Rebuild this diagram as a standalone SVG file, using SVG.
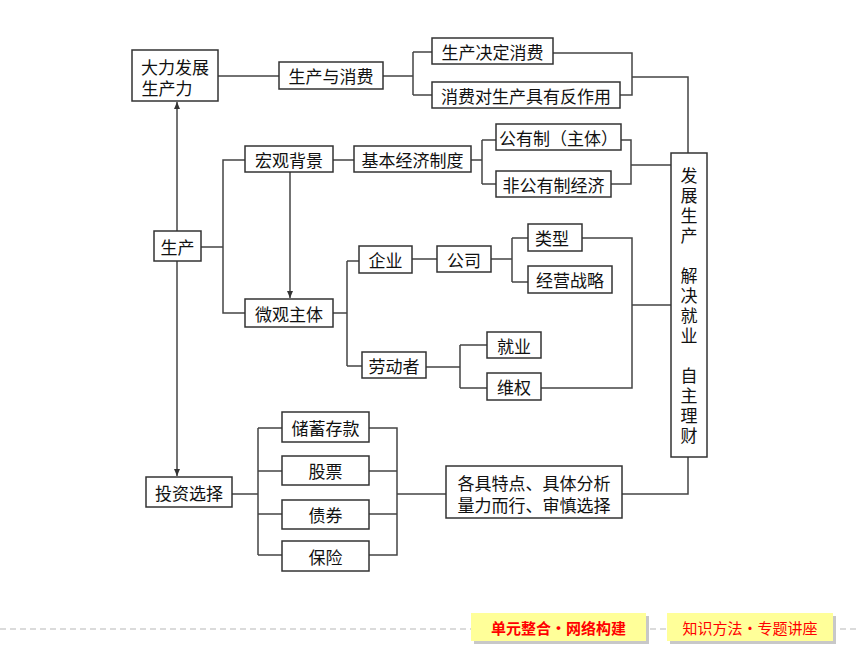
<svg xmlns="http://www.w3.org/2000/svg" width="860" height="645" viewBox="0 0 860 645">
<style>
.b{fill:#fff;stroke:#333;stroke-width:1.5}
.t{font-family:"Noto Sans CJK SC",sans-serif;font-size:17px;fill:#111;text-anchor:middle;dominant-baseline:central}
.v{font-family:"Noto Sans CJK SC",sans-serif;font-size:17px;fill:#111;text-anchor:middle;writing-mode:vertical-rl;letter-spacing:3px}
.c{fill:none;stroke:#444;stroke-width:1.5}
.btn{fill:#ffff99}
.sh{fill:#c8c8c8}
.bt{font-family:"Noto Sans CJK SC",sans-serif;font-size:15px;fill:#f00;text-anchor:middle;dominant-baseline:central}
</style>
<defs>
<marker id="ar" markerWidth="8" markerHeight="8" refX="7" refY="4" orient="auto" markerUnits="userSpaceOnUse">
<path d="M0,1 L7,4 L0,7 Z" fill="#333"/>
</marker>
</defs>
<rect width="860" height="645" fill="#fff"/>
<g id="connectors">
<path class="c" d="M218,76 H279 M383,76 H413 M413,52 V95 M413,52 H432 M413,95 H432"/>
<path class="c" d="M553,53 H632 V95 H620 M632,77 H688 V153"/>
<path class="c" d="M333,160 H354 M471,160 H482 M482,140 V184 M482,140 H496 M482,184 H496"/>
<path class="c" d="M621,140 H631 V184 H611 M631,165 H671"/>
<path class="c" d="M245,160 H223 V313 H245 M201,247 H223"/>
<path class="c" d="M290,172 V298" marker-end="url(#ar)"/>
<path class="c" d="M177,231 V102" marker-end="url(#ar)"/>
<path class="c" d="M177,261 V476" marker-end="url(#ar)"/>
<path class="c" d="M333,313 H347 M347,261 V366 M347,261 H359 M347,366 H362"/>
<path class="c" d="M412,259 H437 M491,259 H512 M512,238 V282 M512,238 H528 M512,282 H528"/>
<path class="c" d="M582,238 H632 V388 H541 M632,305 H671"/>
<path class="c" d="M426,367 H460 M460,345 V388 M460,345 H487 M460,388 H487"/>
<path class="c" d="M232,494 H258 M258,428 V555 M258,428 H282 M258,471 H282 M258,514 H282 M258,555 H282"/>
<path class="c" d="M369,428 H397 V555 H369 M369,471 H397 M369,514 H397 M397,494 H446"/>
<path class="c" d="M622,494 H688 V457"/>
</g>
<g id="n1"><rect class="b" x="132" y="50" width="86" height="51"/><text class="t"><tspan x="175" y="66">大力发展</tspan><tspan x="167" y="87">生产力</tspan></text></g>
<g id="n2"><rect class="b" x="279" y="62" width="104" height="27"/><text class="t" x="331" y="75.5">生产与消费</text></g>
<g id="n3"><rect class="b" x="432" y="38" width="121" height="26"/><text class="t" x="492.5" y="51">生产决定消费</text></g>
<g id="n4"><rect class="b" x="432" y="82" width="188" height="26"/><text class="t" x="526" y="95">消费对生产具有反作用</text></g>
<g id="n5"><rect class="b" x="245" y="146" width="88" height="26"/><text class="t" x="289" y="159">宏观背景</text></g>
<g id="n6"><rect class="b" x="354" y="146" width="117" height="26"/><text class="t" x="412.5" y="159">基本经济制度</text></g>
<g id="n7"><rect class="b" x="496" y="124" width="125" height="26"/><text class="t" x="558.5" y="137">公有制（主体）</text></g>
<g id="n8"><rect class="b" x="496" y="171" width="115" height="26"/><text class="t" x="553.5" y="184">非公有制经济</text></g>
<g id="n9"><rect class="b" x="154" y="231" width="47" height="30"/><text class="t" x="177.5" y="246">生产</text></g>
<g id="n10"><rect class="b" x="245" y="299" width="88" height="28"/><text class="t" x="289" y="313">微观主体</text></g>
<g id="n11"><rect class="b" x="359" y="246" width="53" height="27"/><text class="t" x="385.5" y="259.5">企业</text></g>
<g id="n12"><rect class="b" x="437" y="246" width="54" height="26"/><text class="t" x="464" y="259">公司</text></g>
<g id="n13"><rect class="b" x="528" y="224" width="54" height="27"/><text class="t" x="552" y="237.5">类型</text></g>
<g id="n14"><rect class="b" x="528" y="266" width="84" height="27"/><text class="t" x="570" y="279.5">经营战略</text></g>
<g id="n15"><rect class="b" x="362" y="352" width="64" height="26"/><text class="t" x="394" y="365">劳动者</text></g>
<g id="n16"><rect class="b" x="487" y="332" width="54" height="26"/><text class="t" x="514" y="345">就业</text></g>
<g id="n17"><rect class="b" x="487" y="373" width="54" height="27"/><text class="t" x="514" y="386.5">维权</text></g>
<g id="n18"><rect class="b" x="671" y="153" width="36" height="304"/><text class="v" x="689" y="307">发展生产　解决就业　自主理财</text></g>
<g id="n19"><rect class="b" x="146" y="477" width="86" height="30"/><text class="t" x="189" y="492">投资选择</text></g>
<g id="n20"><rect class="b" x="282" y="412" width="87" height="30"/><text class="t" x="325.5" y="427">储蓄存款</text></g>
<g id="n21"><rect class="b" x="282" y="456" width="87" height="29"/><text class="t" x="325.5" y="470.5">股票</text></g>
<g id="n22"><rect class="b" x="282" y="500" width="87" height="29"/><text class="t" x="325.5" y="514.5">债券</text></g>
<g id="n23"><rect class="b" x="282" y="541" width="87" height="30"/><text class="t" x="325.5" y="556">保险</text></g>
<g id="n24"><rect class="b" x="446" y="466" width="176" height="52"/><text class="t"><tspan x="534" y="482">各具特点、具体分析</tspan><tspan x="534" y="504">量力而行、审慎选择</tspan></text></g>
<g id="footer">
<line x1="0" y1="629" x2="860" y2="629" stroke="#d0d0d0" stroke-width="1.5" stroke-dasharray="6,4"/>
<rect class="sh" x="474" y="616" width="175" height="28"/>
<rect class="btn" x="471" y="613" width="175" height="28"/>
<text class="bt" x="558.5" y="627" font-weight="bold">单元整合·网络构建</text>
<rect class="sh" x="670" y="616" width="166" height="28"/>
<rect class="btn" x="667" y="613" width="166" height="28"/>
<text class="bt" x="750" y="627">知识方法·专题讲座</text>
</g>
</svg>
